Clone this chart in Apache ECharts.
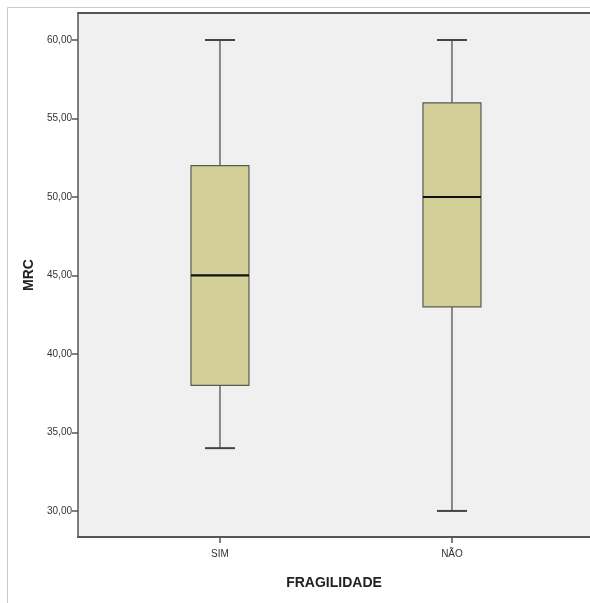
<!DOCTYPE html>
<html>
<head>
<meta charset="utf-8">
<script src="https://cdn.jsdelivr.net/npm/echarts@6/dist/echarts.min.js"></script>
<style>html,body{margin:0;padding:0;background:#fff;}#c{width:590px;height:603px;}</style>
</head>
<body>
<div id="c"></div>
<script>
const categories = ['SIM', 'NÃO'];
const mins = [34, 30];
const q1s = [38, 43];
const medians = [45, 50];
const q3s = [52, 56];
const maxs = [60, 60];
const yTicks = [30, 35, 40, 45, 50, 55, 60];

const data = categories.map((c, i) => [i, mins[i], q1s[i], medians[i], q3s[i], maxs[i]]);
const FONT = '"Liberation Sans Narrow", "Arial Narrow", "Liberation Sans", Arial, sans-serif';

const chart = echarts.init(document.getElementById('c'));
chart.setOption({
  animation: false,
  backgroundColor: '#ffffff',
  graphic: [{
    type: 'rect', silent: true, z: -10,
    shape: { x: 7.5, y: 7.5, width: 700, height: 700 },
    style: { fill: 'none', stroke: '#c8c8c8', lineWidth: 1 }
  }],
  grid: {
    left: 78, top: 13, right: 0, bottom: 66,
    show: true, backgroundColor: '#f0f0f0', borderWidth: 0
  },
  xAxis: [{
    type: 'value', min: -0.612, max: 1.595,
    splitLine: { show: false },
    axisLine: { show: true, onZero: false, lineStyle: { color: '#555', width: 2 } },
    axisTick: { show: true, customValues: [0, 1], length: 6, lineStyle: { color: '#555', width: 1.5 } },
    axisLabel: { customValues: [0, 1], formatter: v => categories[Math.round(v)], fontFamily: FONT, fontSize: 10, color: '#333', margin: 12 },
    name: 'FRAGILIDADE', nameLocation: 'middle', nameGap: 39,
    nameTextStyle: { fontFamily: FONT, fontSize: 14, fontWeight: 'bold', color: '#222' }
  }, {
    type: 'value', position: 'top', min: -0.612, max: 1.595,
    splitLine: { show: false },
    axisLine: { show: true, onZero: false, lineStyle: { color: '#555', width: 2 } },
    axisTick: { show: false }, axisLabel: { show: false }
  }],
  yAxis: {
    type: 'value', min: 28.34, max: 61.72,
    splitLine: { show: false },
    axisLine: { show: true, onZero: false, lineStyle: { color: '#555', width: 1.5 } },
    axisTick: { show: true, customValues: yTicks, length: 6, lineStyle: { color: '#555', width: 1.5 } },
    axisLabel: { customValues: yTicks, formatter: v => v.toFixed(2).replace('.', ','), fontFamily: FONT, fontSize: 10, color: '#333', margin: 6 },
    name: 'MRC', nameLocation: 'middle', nameGap: 40,
    nameTextStyle: { fontFamily: FONT, fontSize: 14, fontWeight: 'bold', color: '#222' }
  },
  series: [{
    type: 'custom',
    data: data,
    encode: { x: 0, y: [1, 2, 3, 4, 5] },
    renderItem: function (params, api) {
      const x = api.value(0);
      const pMin = api.coord([x, api.value(1)]);
      const pQ1 = api.coord([x, api.value(2)]);
      const pMed = api.coord([x, api.value(3)]);
      const pQ3 = api.coord([x, api.value(4)]);
      const pMax = api.coord([x, api.value(5)]);
      const cx = pMed[0];
      const bw = 58, cw = 30;
      const whisker = { stroke: '#444', lineWidth: 1.2 };
      return {
        type: 'group',
        children: [
          { type: 'line', shape: { x1: cx, y1: pMax[1], x2: cx, y2: pQ3[1] }, style: whisker },
          { type: 'line', shape: { x1: cx, y1: pQ1[1], x2: cx, y2: pMin[1] }, style: whisker },
          { type: 'line', shape: { x1: cx - cw / 2, y1: pMax[1], x2: cx + cw / 2, y2: pMax[1] }, style: { stroke: '#444', lineWidth: 2 } },
          { type: 'line', shape: { x1: cx - cw / 2, y1: pMin[1], x2: cx + cw / 2, y2: pMin[1] }, style: { stroke: '#444', lineWidth: 2 } },
          { type: 'rect', shape: { x: cx - bw / 2, y: pQ3[1], width: bw, height: pQ1[1] - pQ3[1] }, style: { fill: '#d3cf98', stroke: '#5a5a50', lineWidth: 1.2 } },
          { type: 'line', shape: { x1: cx - bw / 2, y1: pMed[1], x2: cx + bw / 2, y2: pMed[1] }, style: { stroke: '#111', lineWidth: 2.2 } }
        ]
      };
    }
  }]
});
</script>
</body>
</html>
